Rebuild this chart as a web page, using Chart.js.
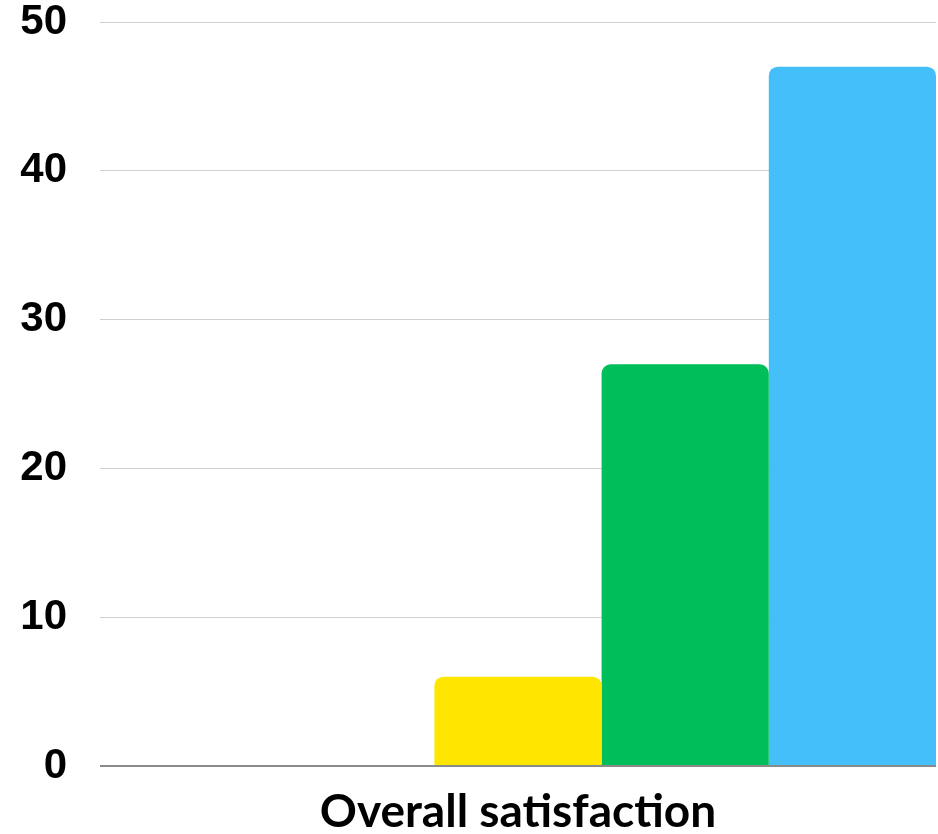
<!DOCTYPE html>
<html>
<head>
<meta charset="utf-8">
<script src="https://cdn.jsdelivr.net/npm/chart.js@4/dist/chart.umd.min.js"></script>
<style>
  html, body { margin: 0; padding: 0; background: #fff; }
  #wrap { width: 938px; height: 834px; }
</style>
</head>
<body>
<div id="wrap"><canvas id="satChart"></canvas></div>
<script>
// ===== DATA =====
const categories = ["Overall satisfaction"];
const seriesNames = ["Very dissatisfied", "Dissatisfied", "Neutral", "Satisfied", "Very satisfied"];
const seriesValues = [[0], [0], [6], [27], [47]];
const seriesColors = ["#F0503C", "#FF9A1F", "#FFE600", "#00BE5A", "#45BFFA"];
const yTicks = [0, 10, 20, 30, 40, 50];

// ===== CHART =====
const satChart = new Chart(
  document.getElementById("satChart"),
  {
    type: "bar",
    data: {
      labels: categories,
      datasets: seriesNames.map((name, i) => ({
        label: name,
        data: seriesValues[i],
        backgroundColor: seriesColors[i],
        borderRadius: { topLeft: 9, topRight: 9 },
        borderSkipped: "bottom",
        inflateAmount: 0,
        categoryPercentage: 1,
        barPercentage: 1
      }))
    },
    options: {
      responsive: true,
      maintainAspectRatio: false,
      animation: false,
      layout: { padding: { top: 0, right: 2, left: 0, bottom: 0 } },
      plugins: {
        legend: { display: false },
        tooltip: { enabled: false }
      },
      scales: {
        x: {
          grid: { display: false },
          border: { display: false },
          afterFit: (axis) => { axis.height = 68; },
          ticks: {
            color: "#000",
            padding: 11,
            font: { family: "Lato", weight: "bold", size: 46 }
          }
        },
        y: {
          min: 0,
          max: 50,
          afterBuildTicks: (axis) => { axis.ticks = yTicks.map(v => ({ value: v })); },
          afterFit: (axis) => { axis.width = 100; axis.paddingTop = 22; },
          border: { display: false },
          grid: {
            drawTicks: false,
            color: (ctx) => ctx.tick && ctx.tick.value === 0 ? "#8a8a8a" : "#cfcfcf",
            lineWidth: (ctx) => ctx.tick && ctx.tick.value === 0 ? 2 : 1
          },
          ticks: {
            color: "#000",
            padding: 33,
            font: { family: "Liberation Sans", weight: "bold", size: 42 }
          }
        }
      }
    }
  }
);
</script>
</body>
</html>
